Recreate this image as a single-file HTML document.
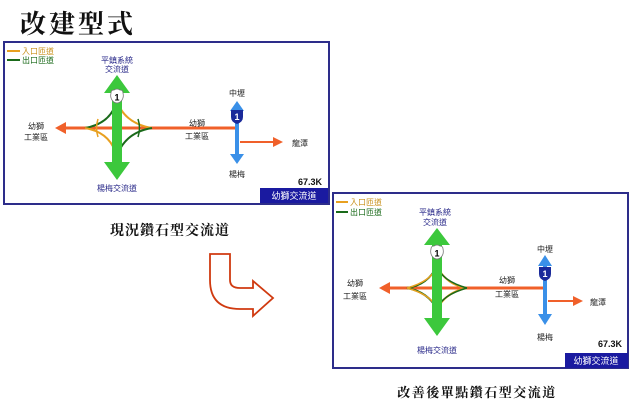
<!DOCTYPE html>
<html><head><meta charset="utf-8"><style>
html,body{margin:0;padding:0;background:#fff;width:635px;height:409px;overflow:hidden}
svg{display:block}
text{font-family:"Liberation Sans","Noto Sans CJK TC",sans-serif}
.s{font-family:"Liberation Serif","Noto Serif CJK SC",serif}
</style></head><body>
<svg width="635" height="409" viewBox="0 0 635 409">
<defs>
<g id="shieldw"><path d="M-6,-4 Q-6,-7 -3,-7 Q0,-9 3,-7 Q6,-7 6,-4 Q7,0 5,3 Q3,6 0,6 Q-3,6 -5,3 Q-7,0 -6,-4Z" fill="#fff" stroke="#777" stroke-width="0.8"/><text x="0" y="3.5" font-size="9" font-weight="bold" text-anchor="middle" fill="#000">1</text></g>
<g id="shieldb"><path d="M-6,-6 H6 V1 Q6,6 0,8 Q-6,6 -6,1Z" fill="#1a2a9a"/><text x="0" y="4" font-size="9" font-weight="bold" text-anchor="middle" fill="#fff">1</text></g>
</defs>
<text x="20" y="33" class="s" font-size="26" font-weight="bold" fill="#111" letter-spacing="3">改建型式</text>

<!-- Panel 1 -->
<rect x="4" y="42" width="325" height="162" fill="#fff" stroke="#2d2d8a" stroke-width="2"/>
<line x1="7" y1="51" x2="20" y2="51" stroke="#e8a020" stroke-width="2"/>
<text x="22" y="54" font-size="8" fill="#c8901a">入口匝道</text>
<line x1="7" y1="60" x2="20" y2="60" stroke="#1a6a1a" stroke-width="2"/>
<text x="22" y="63" font-size="8" fill="#1a6a1a">出口匝道</text>
<text x="117" y="63" font-size="8" fill="#2a2a8a" text-anchor="middle">平鎮系統</text>
<text x="117" y="72" font-size="8" fill="#2a2a8a" text-anchor="middle">交流道</text>
<line x1="60" y1="128" x2="237" y2="128" stroke="#f0602a" stroke-width="3"/>
<path d="M55,128 L66,122 L66,134Z" fill="#f0602a"/>
<path d="M115,106 Q108,124 85,128" fill="none" stroke="#1a6a1a" stroke-width="2"/>
<path d="M85,128 Q108,132 115,151" fill="none" stroke="#e8a020" stroke-width="2"/>
<path d="M119,106 Q128,124 152,128" fill="none" stroke="#e8a020" stroke-width="2"/>
<path d="M152,128 Q128,132 119,151" fill="none" stroke="#1a6a1a" stroke-width="2"/>
<path d="M98,119 Q95,128 98,137" fill="none" stroke="#e8a020" stroke-width="1.5"/>
<path d="M138,119 Q141,128 138,137" fill="none" stroke="#1a6a1a" stroke-width="1.5"/>
<rect x="112" y="88" width="10" height="80" fill="#3cc83c"/>
<path d="M117,75 L130,93 L104,93Z M117,180 L130,162 L104,162Z" fill="#3cc83c"/>
<use href="#shieldw" x="117" y="97"/>
<text x="117" y="191" font-size="8" fill="#2a2a8a" text-anchor="middle">楊梅交流道</text>
<text x="36" y="129" font-size="8" fill="#222" text-anchor="middle">幼獅</text>
<text x="36" y="140" font-size="8" fill="#222" text-anchor="middle">工業區</text>
<text x="197" y="126" font-size="8" fill="#222" text-anchor="middle">幼獅</text>
<text x="197" y="139" font-size="8" fill="#222" text-anchor="middle">工業區</text>
<line x1="240" y1="142" x2="276" y2="142" stroke="#f0602a" stroke-width="2"/>
<path d="M283,142 L273,137 L273,147Z" fill="#f0602a"/>
<text x="292" y="146" font-size="8" fill="#222">龍潭</text>
<rect x="235" y="108" width="4" height="48" fill="#3a90e8"/>
<path d="M237,101 L244,111 L230,111Z M237,164 L244,154 L230,154Z" fill="#3a90e8"/>
<use href="#shieldb" x="237" y="116"/>
<text x="237" y="96" font-size="8" fill="#222" text-anchor="middle">中壢</text>
<text x="237" y="177" font-size="8" fill="#222" text-anchor="middle">楊梅</text>
<text x="322" y="185" font-size="9" font-weight="bold" fill="#111" text-anchor="end">67.3K</text>
<rect x="260" y="188" width="68" height="15" fill="#1a1aa0"/>
<text x="294" y="199" font-size="9" fill="#fff" text-anchor="middle">幼獅交流道</text>

<text x="170" y="235" class="s" font-size="14" font-weight="bold" fill="#111" text-anchor="middle" letter-spacing="1">現況鑽石型交流道</text>

<path d="M210,254 H230 V280 Q230,288 240,288 H253 V281 L273,298 L253,316 V309 H240 Q210,309 210,280 Z" fill="#fff" stroke="#d03a10" stroke-width="1.8"/>

<!-- Panel 2 -->
<rect x="333" y="193" width="295" height="175" fill="#fff" stroke="#2d2d8a" stroke-width="2"/>
<line x1="336" y1="202" x2="348" y2="202" stroke="#e8a020" stroke-width="2"/>
<text x="350" y="205" font-size="8" fill="#c8901a">入口匝道</text>
<line x1="336" y1="212" x2="348" y2="212" stroke="#1a6a1a" stroke-width="2"/>
<text x="350" y="215" font-size="8" fill="#1a6a1a">出口匝道</text>
<text x="435" y="215" font-size="8" fill="#2a2a8a" text-anchor="middle">平鎮系統</text>
<text x="435" y="225" font-size="8" fill="#2a2a8a" text-anchor="middle">交流道</text>
<line x1="384" y1="288" x2="545" y2="288" stroke="#f0602a" stroke-width="3"/>
<path d="M379,288 L390,282 L390,294Z" fill="#f0602a"/>
<path d="M437,266 Q428,285 407,288 Q428,292 437,309" fill="none" stroke="#1a6a1a" stroke-width="2"/>
<path d="M437,266 Q446,285 467,288 Q446,292 437,309" fill="none" stroke="#e8a020" stroke-width="2"/>
<path d="M407,288 Q432,281 437,266" fill="none" stroke="#e8a020" stroke-width="1.5"/>
<path d="M407,288 Q432,295 437,309" fill="none" stroke="#e8a020" stroke-width="1.5"/>
<path d="M467,288 Q442,281 437,266" fill="none" stroke="#1a6a1a" stroke-width="1.5"/>
<path d="M467,288 Q442,295 437,309" fill="none" stroke="#1a6a1a" stroke-width="1.5"/>
<rect x="432" y="241" width="10" height="82" fill="#3cc83c"/>
<path d="M437,228 L450,245 L424,245Z M437,336 L450,318 L424,318Z" fill="#3cc83c"/>
<use href="#shieldw" x="437" y="253"/>
<text x="437" y="353" font-size="8" fill="#2a2a8a" text-anchor="middle">楊梅交流道</text>
<text x="355" y="286" font-size="8" fill="#222" text-anchor="middle">幼獅</text>
<text x="355" y="299" font-size="8" fill="#222" text-anchor="middle">工業區</text>
<text x="507" y="283" font-size="8" fill="#222" text-anchor="middle">幼獅</text>
<text x="507" y="297" font-size="8" fill="#222" text-anchor="middle">工業區</text>
<line x1="548" y1="301" x2="576" y2="301" stroke="#f0602a" stroke-width="2"/>
<path d="M583,301 L573,296 L573,306Z" fill="#f0602a"/>
<text x="590" y="305" font-size="8" fill="#222">龍潭</text>
<rect x="543" y="264" width="4" height="52" fill="#3a90e8"/>
<path d="M545,255 L552,266 L538,266Z M545,325 L552,314 L538,314Z" fill="#3a90e8"/>
<use href="#shieldb" x="545" y="273"/>
<text x="545" y="252" font-size="8" fill="#222" text-anchor="middle">中壢</text>
<text x="545" y="340" font-size="8" fill="#222" text-anchor="middle">楊梅</text>
<text x="622" y="347" font-size="9" font-weight="bold" fill="#111" text-anchor="end">67.3K</text>
<rect x="565" y="353" width="63" height="15" fill="#1a1aa0"/>
<text x="596" y="364" font-size="9" fill="#fff" text-anchor="middle">幼獅交流道</text>

<text x="477" y="397" class="s" font-size="13" font-weight="bold" fill="#111" text-anchor="middle" letter-spacing="1.5">改善後單點鑽石型交流道</text>
</svg>
</body></html>
